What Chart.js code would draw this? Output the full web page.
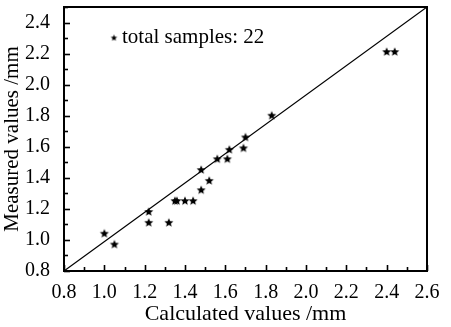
<!DOCTYPE html>
<html>
<head>
<meta charset="utf-8">
<script src="https://cdn.jsdelivr.net/npm/chart.js@4.4.0/dist/chart.umd.min.js"></script>
<style>
html,body{margin:0;padding:0;background:#fff;}
#wrap{width:451px;height:327px;}
</style>
</head>
<body>
<div id="wrap"><canvas id="c" width="451" height="327"></canvas></div>
<script>
// Data
const calculated = [1.00, 1.05, 1.22, 1.22, 1.32, 1.35, 1.36, 1.40, 1.44, 1.48, 1.48, 1.52, 1.56, 1.61, 1.62, 1.69, 1.70, 1.83, 2.40, 2.44];
const measured   = [1.04, 0.97, 1.18, 1.11, 1.11, 1.25, 1.25, 1.25, 1.25, 1.32, 1.45, 1.38, 1.52, 1.52, 1.58, 1.59, 1.66, 1.80, 2.21, 2.21];
const refLineX = [0.8, 2.6];
const refLineY = [0.8, 2.5];
const xRange = [0.8, 2.6];
const yRange = [0.8, 2.5];
const legendText = 'total samples: 22';
const xTitle = 'Calculated values /mm';
const yTitle = 'Measured values /mm';

const FONT = '"Liberation Serif", "Times New Roman", serif';

function makeStar(r) {
  const c = document.createElement('canvas');
  const s = Math.ceil(r * 2 + 2);
  c.width = s; c.height = s;
  const g = c.getContext('2d');
  g.fillStyle = '#000';
  g.beginPath();
  for (let i = 0; i < 10; i++) {
    const ang = -Math.PI / 2 + i * Math.PI / 5;
    const rr = (i % 2 === 0) ? r : r * 0.45;
    const px = s / 2 + rr * Math.cos(ang);
    const py = s / 2 + rr * Math.sin(ang);
    if (i === 0) g.moveTo(px, py); else g.lineTo(px, py);
  }
  g.closePath();
  g.fill();
  return c;
}
const bigStar = makeStar(4.7);
const smallStar = makeStar(3.4);

const points = calculated.map((v, i) => ({x: v, y: measured[i]}));

const frameTicks = {
  id: 'frameTicks',
  afterDatasetsDraw(chart) {
    const ctx = chart.ctx;
    const a = chart.chartArea;
    const xs = chart.scales.x, ys = chart.scales.y;
    ctx.save();
    ctx.strokeStyle = '#000';
    ctx.lineWidth = 1.6;
    xs.ticks.forEach(t => {
      const px = Math.round(xs.getPixelForValue(t.value)) + 0.5;
      const major = Math.round(t.value * 10) % 2 === 0;
      const len = major ? 6 : 4;
      ctx.beginPath();
      ctx.moveTo(px, a.bottom);
      ctx.lineTo(px, a.bottom - len);
      ctx.stroke();
    });
    ys.ticks.forEach(t => {
      const py = Math.round(ys.getPixelForValue(t.value)) + 0.5;
      const major = Math.round(t.value * 10) % 2 === 0;
      const len = major ? 6 : 4;
      ctx.beginPath();
      ctx.moveTo(a.left, py);
      ctx.lineTo(a.left + len, py);
      ctx.stroke();
    });
    ctx.lineWidth = 2;
    ctx.strokeRect(a.left, a.top, a.right - a.left, a.bottom - a.top);
    // legend
    ctx.drawImage(smallStar, a.left + 50 - smallStar.width / 2, a.top + 31 - smallStar.height / 2);
    ctx.fillStyle = '#000';
    ctx.font = '21px ' + FONT;
    ctx.textBaseline = 'middle';
    ctx.textAlign = 'left';
    ctx.fillText(legendText, a.left + 58, a.top + 30);
    ctx.restore();
  }
};

function lbl(v) {
  return Math.round(v * 10) % 2 === 0 ? v.toFixed(1) : '';
}

new Chart(document.getElementById('c'), {
  type: 'scatter',
  data: {
    datasets: [
      {
        type: 'line',
        data: refLineX.map((v, i) => ({x: v, y: refLineY[i]})),
        borderColor: '#000',
        borderWidth: 1.2,
        pointRadius: 0,
        fill: false
      },
      {
        data: points,
        pointStyle: bigStar,
        pointRadius: 5,
        backgroundColor: '#000',
        borderColor: '#000'
      }
    ]
  },
  options: {
    responsive: false,
    animation: false,
    devicePixelRatio: 1,
    layout: {padding: {left: 0, right: 24, top: 7, bottom: 0}},
    plugins: {legend: {display: false}, tooltip: {enabled: false}},
    scales: {
      x: {
        type: 'linear',
        min: xRange[0], max: xRange[1],
        grid: {display: false},
        border: {display: false},
        ticks: {
          stepSize: 0.1, autoSkip: false, maxRotation: 0,
          color: '#000', padding: 2,
          font: {family: FONT, size: 20},
          callback: lbl
        },
        title: {
          display: true, text: xTitle, color: '#000',
          font: {family: FONT, size: 22}, padding: {top: -3, bottom: 0}
        },
        afterFit(s) { s.height = 56; s.paddingLeft = 0; s.paddingRight = 0; }
      },
      y: {
        type: 'linear',
        min: yRange[0], max: yRange[1],
        grid: {display: false},
        border: {display: false},
        ticks: {
          stepSize: 0.1, autoSkip: false,
          color: '#000', padding: 6,
          font: {family: FONT, size: 20},
          callback: lbl
        },
        title: {
          display: true, text: yTitle, color: '#000',
          font: {family: FONT, size: 21}, padding: {top: 0, bottom: 2}
        },
        afterFit(s) { s.width = 64; s.paddingTop = 0; s.paddingBottom = 0; }
      }
    }
  },
  plugins: [frameTicks]
});
</script>
</body>
</html>
